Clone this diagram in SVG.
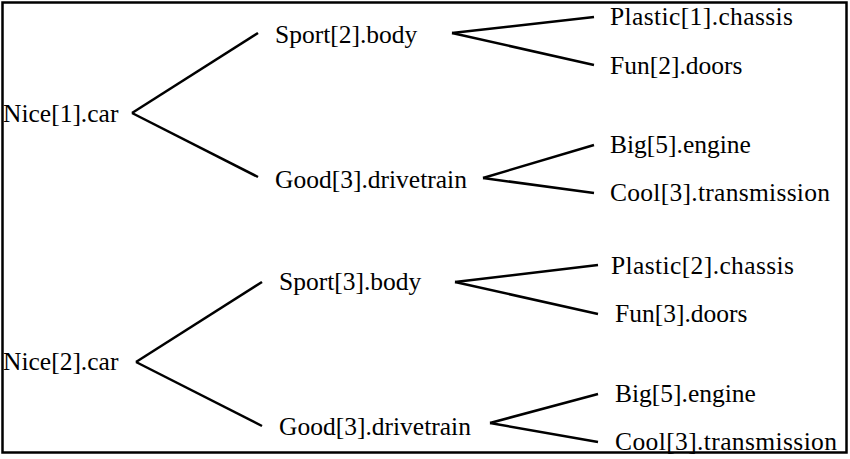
<svg xmlns="http://www.w3.org/2000/svg" width="850" height="459" viewBox="0 0 850 459">
<style>
text{font-family:"Liberation Serif","Times New Roman",serif;font-size:25.5px;fill:#000}
.c line{stroke:#000;stroke-width:2.5;stroke-linecap:butt}
</style>
<rect x="2.5" y="2.5" width="844" height="450" fill="#fff" stroke="#000" stroke-width="2.5"/>
<g class="c" id="connectors">
<line x1="132" y1="113" x2="258" y2="33"/>
<line x1="132" y1="113" x2="258" y2="177"/>
<line x1="452" y1="33" x2="594" y2="17"/>
<line x1="452" y1="33" x2="594" y2="65"/>
<line x1="483" y1="178" x2="594" y2="145"/>
<line x1="483" y1="178" x2="594" y2="193"/>
<line x1="136" y1="362" x2="262" y2="282"/>
<line x1="136" y1="362" x2="262" y2="426"/>
<line x1="455" y1="282" x2="598" y2="265"/>
<line x1="455" y1="282" x2="598" y2="314"/>
<line x1="490" y1="423" x2="598" y2="394"/>
<line x1="490" y1="423" x2="598" y2="442"/>
</g>
<g id="nice1"><text x="3" y="122">Nice[1].car</text></g>
<g id="sport2"><text x="275" y="43">Sport[2].body</text></g>
<g id="good3a"><text x="275" y="188">Good[3].drivetrain</text></g>
<g id="plastic1"><text x="610" y="25" textLength="183" lengthAdjust="spacing">Plastic[1].chassis</text></g>
<g id="fun2"><text x="610" y="74">Fun[2].doors</text></g>
<g id="big5a"><text x="610" y="153">Big[5].engine</text></g>
<g id="cool3a"><text x="610" y="201" textLength="220" lengthAdjust="spacing">Cool[3].transmission</text></g>
<g id="nice2"><text x="3" y="370">Nice[2].car</text></g>
<g id="sport3"><text x="279" y="290">Sport[3].body</text></g>
<g id="good3b"><text x="279" y="435">Good[3].drivetrain</text></g>
<g id="plastic2"><text x="611" y="274" textLength="183" lengthAdjust="spacing">Plastic[2].chassis</text></g>
<g id="fun3"><text x="615" y="322">Fun[3].doors</text></g>
<g id="big5b"><text x="615" y="402">Big[5].engine</text></g>
<g id="cool3b"><text x="615" y="450" textLength="222" lengthAdjust="spacing">Cool[3].transmission</text></g>
</svg>
